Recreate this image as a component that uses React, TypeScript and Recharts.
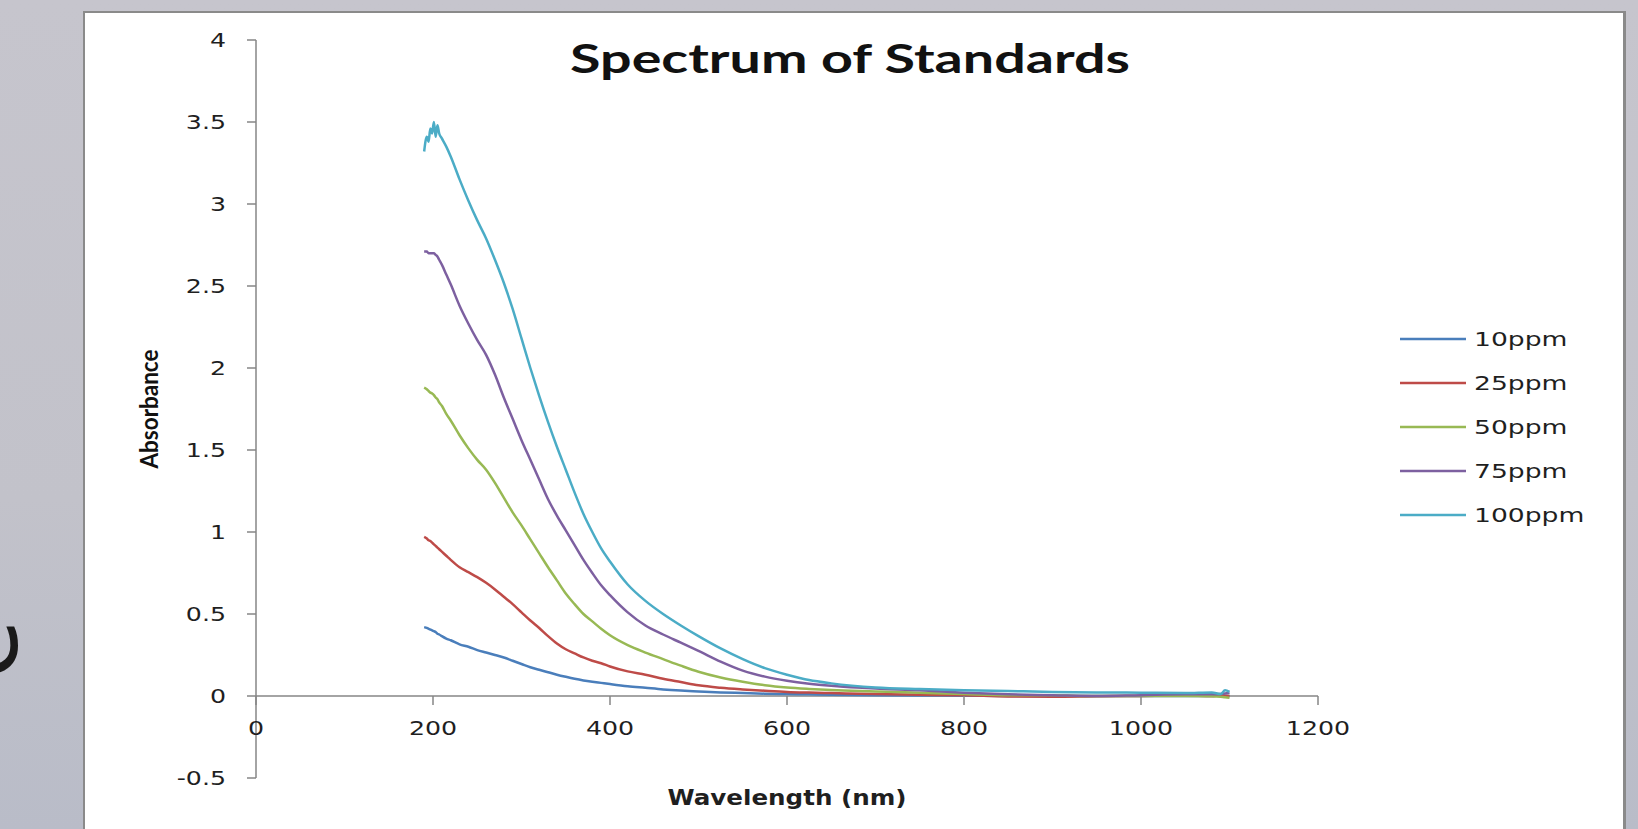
import React from "react";
import { LineChart, Line, XAxis, YAxis, ReferenceLine, Legend, Label } from "recharts";

const wavelengths = [
  190, 193, 195, 197, 199, 201, 203, 205, 207, 210, 215, 220, 230, 240, 250, 260, 270, 280,
  290, 300, 310, 320, 330, 340, 350, 360, 370, 380, 390, 400, 420, 440, 460, 480, 500, 525,
  550, 575, 600, 625, 650, 700, 750, 800, 850, 900, 950, 1000, 1050, 1080, 1090, 1095, 1100,
];

const ppm10 = [
  0.42, 0.415, 0.41, 0.405, 0.4, 0.395, 0.39, 0.38, 0.375, 0.365, 0.35, 0.34, 0.315, 0.3, 0.28,
  0.265, 0.25, 0.235, 0.215, 0.195, 0.175, 0.16, 0.145, 0.13, 0.117, 0.105, 0.095, 0.087, 0.08,
  0.073, 0.06, 0.05, 0.04, 0.033, 0.028, 0.022, 0.018, 0.014, 0.012, 0.01, 0.008, 0.005, 0.003,
  0.002, 0, 0, 0, 0, 0, 0, 0.002, 0, 0,
];

const ppm25 = [
  0.97, 0.96, 0.95, 0.945, 0.935, 0.925, 0.915, 0.905, 0.895, 0.88, 0.855, 0.83, 0.785, 0.755,
  0.725, 0.69, 0.65, 0.605, 0.56, 0.51, 0.46, 0.415, 0.365, 0.32, 0.285, 0.26, 0.235, 0.215, 0.2,
  0.18, 0.15, 0.13, 0.105, 0.085, 0.065, 0.05, 0.04, 0.032, 0.025, 0.021, 0.018, 0.012, 0.008,
  0.004, -0.003, -0.005, -0.002, 0, 0.002, 0, 0.004, 0.002, 0,
];

const ppm50 = [
  1.88, 1.87, 1.86, 1.85, 1.845, 1.835, 1.82, 1.81, 1.79, 1.77, 1.72, 1.68, 1.59, 1.51, 1.44,
  1.38, 1.3, 1.21, 1.12, 1.04, 0.955, 0.87, 0.785, 0.705, 0.625, 0.56, 0.5, 0.455, 0.41, 0.37,
  0.31, 0.265, 0.225, 0.185, 0.148, 0.113, 0.087, 0.066, 0.052, 0.043, 0.036, 0.028, 0.02, 0.012,
  0.005, 0.004, 0, 0, 0, -0.002, -0.005, -0.008, -0.01,
];

const ppm75 = [
  2.71, 2.71, 2.7, 2.7, 2.7, 2.7, 2.69, 2.68, 2.66, 2.63, 2.57, 2.51, 2.38, 2.27, 2.17, 2.08,
  1.96, 1.82, 1.69, 1.56, 1.44, 1.32, 1.2, 1.1, 1.01, 0.92, 0.83, 0.75, 0.675, 0.615, 0.51, 0.43,
  0.375, 0.325, 0.275, 0.21, 0.155, 0.118, 0.093, 0.075, 0.062, 0.045, 0.035, 0.02, 0.01, 0.005, 0,
  0.005, 0.01, 0.01, 0.012, 0.015, 0.02,
];

const ppm100 = [
  3.32, 3.41, 3.38, 3.46, 3.43, 3.5, 3.41, 3.48, 3.43, 3.4, 3.35, 3.29, 3.15, 3.02, 2.9, 2.79,
  2.66, 2.52, 2.36, 2.18, 2.0, 1.83, 1.67, 1.52, 1.38, 1.24, 1.11, 1.0, 0.9, 0.82, 0.68, 0.58,
  0.5, 0.43, 0.365, 0.29, 0.225, 0.17, 0.13, 0.097, 0.077, 0.052, 0.042, 0.035, 0.03, 0.025,
  0.022, 0.02, 0.018, 0.022, 0.012, 0.035, 0.025,
];

const seriesNames = ["10ppm", "25ppm", "50ppm", "75ppm", "100ppm"];
const seriesColors = ["#4a7ebb", "#be4b48", "#98b954", "#7d60a0", "#4bacc6"];
const seriesValues = [ppm10, ppm25, ppm50, ppm75, ppm100];

const xTicks = [0, 200, 400, 600, 800, 1000, 1200];
const yTicks = [-0.5, 0, 0.5, 1, 1.5, 2, 2.5, 3, 3.5, 4];

const data = wavelengths.map((nm, i) => {
  const row: Record<string, number> = { nm };
  seriesNames.forEach((name, s) => {
    row[name] = seriesValues[s][i];
  });
  return row;
});

// chart geometry (the legend box width gets taken off the right side by recharts)
const W = 1638;
const H = 829;
const LEGEND_W = 240;
const M = { top: 40, right: 320 - LEGEND_W, bottom: 11, left: 156 };
const Y_AXIS_W = 100;
const X_AXIS_H = 40;
const plotH = H - M.top - M.bottom - X_AXIS_H;
const zeroY = M.top + (plotH * 4) / 4.5;

const AXIS = "#868686";
const TICK_FONT = "'DejaVu Sans', Verdana, sans-serif";

function Stretched({ x, y, anchor = "start", size, weight = 400, sx = 1.33, family = TICK_FONT, children }: any) {
  return (
    <g transform={`translate(${x},${y}) scale(${sx},1)`}>
      <text x={0} y={0} textAnchor={anchor} fontSize={size} fontWeight={weight} fontFamily={family} fill="#1f1f1f">
        {children}
      </text>
    </g>
  );
}

function YTick({ x, y, payload }: any) {
  return (
    <Stretched x={x} y={y + 7} anchor="end" size={19}>
      {payload.value}
    </Stretched>
  );
}

function XTick({ x, payload }: any) {
  return (
    <g>
      <line x1={x} y1={zeroY} x2={x} y2={zeroY + 9} stroke={AXIS} strokeWidth={1.5} />
      <Stretched x={x} y={zeroY + 39} anchor="middle" size={19}>
        {payload.value}
      </Stretched>
    </g>
  );
}

function LegendBox({ payload }: any) {
  const items = [...(payload || [])].sort(
    (a: any, b: any) => seriesNames.indexOf(a.value) - seriesNames.indexOf(b.value)
  );
  return (
    <svg width={LEGEND_W} height={230}>
      {items.map((p: any, i: number) => {
        const cy = 22 + i * 44;
        return (
          <g key={p.value}>
            <line x1={10} y1={cy} x2={76} y2={cy} stroke={p.color} strokeWidth={2.5} />
            <Stretched x={84} y={cy + 7} size={20}>
              {p.value}
            </Stretched>
          </g>
        );
      })}
    </svg>
  );
}

export default function App() {
  return (
    <div
      style={{
        position: "fixed",
        left: 0,
        top: 0,
        width: W,
        height: H,
        overflow: "hidden",
        background: "linear-gradient(180deg, #c6c5cd 0%, #c2c2ca 60%, #b9bcc8 100%)",
      }}
    >
      <svg style={{ position: "absolute", left: 0, top: 0 }} width={84} height={H}>
        <text
          transform="translate(17,680) rotate(-90)"
          fontSize={110}
          fontFamily="'Open Sans', sans-serif"
          fill="#1a1a1a"
        >
          e
        </text>
      </svg>
      <div
        style={{
          position: "absolute",
          left: 83,
          top: 11,
          width: 1543,
          height: 830,
          boxSizing: "border-box",
          background: "#ffffff",
          borderLeft: "2px solid #8a8a8a",
          borderTop: "2px solid #8a8a8a",
          borderRight: "3px solid #8a8a8a",
        }}
      />
      <div
        style={{
          position: "absolute",
          left: 850,
          top: 37.5,
          transform: "translateX(-50%) scaleX(1.39)",
          fontFamily: "Lato, 'Open Sans', sans-serif",
          fontWeight: 700,
          fontSize: 40,
          lineHeight: "40px",
          whiteSpace: "nowrap",
          color: "#111",
        }}
      >
        Spectrum of Standards
      </div>
      <div style={{ position: "absolute", left: 0, top: 0 }}>
        <LineChart width={W} height={H} data={data} margin={M}>
          <XAxis
            dataKey="nm"
            type="number"
            domain={[0, 1200]}
            ticks={xTicks}
            axisLine={false}
            tickLine={false}
            tick={<XTick />}
            height={X_AXIS_H}
            interval={0}
          >
            <Label
              content={({ viewBox }: any) => (
                <Stretched
                  x={viewBox.x + viewBox.width / 2}
                  y={viewBox.y + 27}
                  anchor="middle"
                  size={20.5}
                  sx={1.2}
                  weight={700}
                >
                  Wavelength (nm)
                </Stretched>
              )}
            />
          </XAxis>
          <YAxis
            type="number"
            domain={[-0.5, 4]}
            ticks={yTicks}
            width={Y_AXIS_W}
            interval={0}
            axisLine={{ stroke: AXIS, strokeWidth: 1.5 }}
            tickLine={{ stroke: AXIS, strokeWidth: 1.5 }}
            tickSize={9}
            tickMargin={21}
            tick={<YTick />}
          >
            <Label
              content={({ viewBox }: any) => (
                <g transform={`translate(${viewBox.x + 2},${viewBox.y + viewBox.height / 2}) scale(1.12,1) rotate(-90)`}>
                  <text
                    x={0}
                    y={0}
                    textAnchor="middle"
                    fontSize={22.5}
                    fontWeight={700}
                    fontFamily="Lato, sans-serif"
                    fill="#111"
                  >
                    Absorbance
                  </text>
                </g>
              )}
            />
          </YAxis>
          <ReferenceLine y={0} stroke={AXIS} strokeWidth={1.5} />
          {seriesNames.map((name, s) => (
            <Line
              key={name}
              dataKey={name}
              name={name}
              type="monotone"
              stroke={seriesColors[s]}
              strokeWidth={2.5}
              dot={false}
              isAnimationActive={false}
            />
          ))}
          <Legend
            layout="horizontal"
            verticalAlign="middle"
            align="right"
            content={<LegendBox />}
            wrapperStyle={{ left: 1390, top: 317, width: LEGEND_W, height: 230 }}
          />
        </LineChart>
      </div>
    </div>
  );
}
